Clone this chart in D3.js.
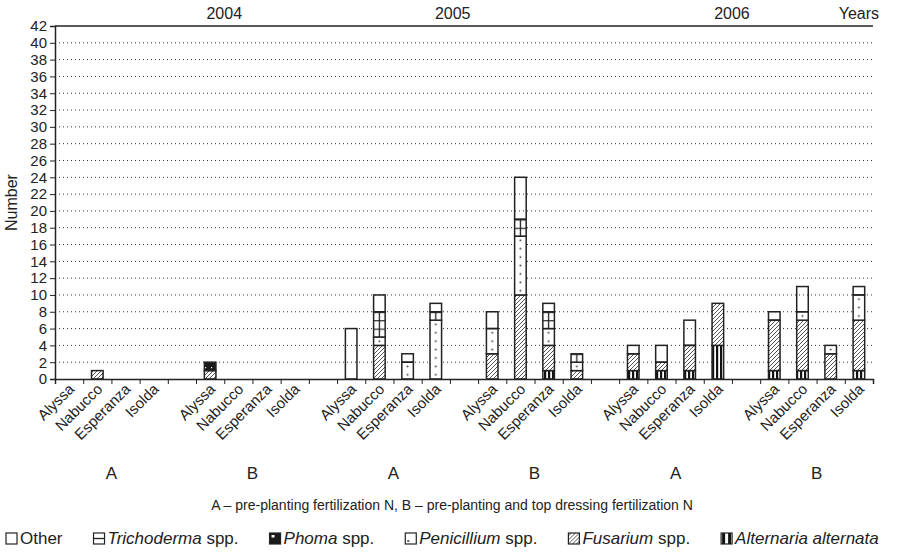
<!DOCTYPE html>
<html>
<head>
<meta charset="utf-8">
<script src="https://cdn.jsdelivr.net/npm/d3@7/dist/d3.min.js"></script>
<style>
  body { margin: 0; background: #fff; }
  svg text { font-family: "Liberation Sans", Arial, sans-serif; fill: #222; }
</style>
</head>
<body>
<div class="chart"></div>
<script>
// Data
const varieties = ["Alyssa", "Nabucco", "Esperanza", "Isolda"];
const treatments = ["A", "B", "A", "B", "A", "B"];
const years = ["2004", "2005", "2006"];
const yTicks = d3.range(0, 43, 2);

// one value per bar: 6 groups x 4 varieties
const alternaria  = [0,0,0,0, 0,0,0,0, 0,0,0,0, 0,0,1,0, 1,1,1,4, 1,1,0,1];
const fusarium    = [0,1,0,0, 1,0,0,0, 0,4,0,0, 3,10,3,1, 2,1,3,5, 6,6,3,6];
const penicillium = [0,0,0,0, 0,0,0,0, 0,1,2,7, 3,7,2,1, 0,0,0,0, 0,1,1,3];
const phoma       = [0,0,0,0, 1,0,0,0, 0,0,0,0, 0,0,0,0, 0,0,0,0, 0,0,0,0];
const trichoderma = [0,0,0,0, 0,0,0,0, 0,3,0,1, 0,2,2,1, 0,0,0,0, 0,0,0,0];
const other       = [0,0,0,0, 0,0,0,0, 6,2,1,1, 2,5,1,0, 1,2,3,0, 1,3,0,1];

// stacking order, bottom first
const series = [
  { key: "alt", values: alternaria },
  { key: "fus", values: fusarium },
  { key: "pen", values: penicillium },
  { key: "pho", values: phoma },
  { key: "tri", values: trichoderma },
  { key: "oth", values: other }
];

// legend order (left to right)
const legendItems = [
  { key: "oth", name: "Other", spp: false, italic: false },
  { key: "tri", name: "Trichoderma", spp: true, italic: true },
  { key: "pho", name: "Phoma", spp: true, italic: true },
  { key: "pen", name: "Penicillium", spp: true, italic: true },
  { key: "fus", name: "Fusarium", spp: true, italic: true },
  { key: "alt", name: "Alternaria alternata", spp: false, italic: true }
];

// Layout
const W = 905, H = 554;
const plotLeft = 55, plotRight = 873, plotTop = 26, plotBottom = 379;

const svg = d3.select(".chart").append("svg")
  .attr("width", W)
  .attr("height", H);

// slots: 4 varieties per group, one empty slot between groups
const slots = [];
treatments.forEach((t, g) => {
  varieties.forEach((v, i) => slots.push({ g: g, v: v, idx: g * 4 + i }));
  if (g < treatments.length - 1) slots.push({ g: g, gap: true });
});
slots.forEach((s, i) => s.slot = i);

const xPos = d3.scaleLinear().domain([0, slots.length]).range([plotLeft, plotRight]);
const x = d3.scaleBand()
  .domain(d3.range(slots.length))
  .range([plotLeft, plotRight])
  .paddingInner(0);

const y = d3.scaleLinear().domain([0, 42]).range([plotBottom, plotTop]);
const unit = y(0) - y(1);

// patterns for the fills
const defs = svg.append("defs");
function pattern(id, w, h, px, py) {
  const p = defs.append("pattern").attr("id", id).attr("patternUnits", "userSpaceOnUse")
    .attr("width", w).attr("height", h).attr("x", px || 0).attr("y", py || 0);
  p.append("rect").attr("width", w).attr("height", h).attr("fill", "#fff");
  return p;
}

let p = pattern("alt", 4, 4);
p.append("rect").attr("x", 0).attr("width", 2.2).attr("height", 4).attr("fill", "#111");

p = pattern("fus", 4, 4);
p.append("path").attr("d", "M-1,1 l2,-2 M0,4 l4,-4 M3,5 l2,-2")
  .attr("stroke", "#555").attr("stroke-width", 1);

p = pattern("pen", x.bandwidth(), unit, plotLeft, plotBottom);
p.append("circle").attr("cx", x.bandwidth() / 2).attr("cy", unit / 2).attr("r", 1).attr("fill", "#444");

p = pattern("pho", 6, 6);
p.append("rect").attr("width", 6).attr("height", 6).attr("fill", "#1a1a1a");
p.append("rect").attr("x", 1).attr("y", 1).attr("width", 1.2).attr("height", 1.2).attr("fill", "#fff");

// brick-like boxes, one row per unit, with a divider at the bar centre
p = pattern("tri", x.bandwidth(), unit, plotLeft, plotBottom);
p.append("path")
  .attr("d", `M0,0.6 h${x.bandwidth()} M${x.bandwidth() / 2},0 v${unit}`)
  .attr("stroke", "#222").attr("stroke-width", 1.3);

// legend swatches
p = pattern("leg-tri", 11, 11, 0, 0);
p.append("path").attr("d", "M0,5.5 h11").attr("stroke", "#222").attr("stroke-width", 1.3);
p = pattern("leg-pho", 11, 11, 0, 0);
p.append("rect").attr("width", 11).attr("height", 11).attr("fill", "#1a1a1a");
p.append("rect").attr("x", 2).attr("y", 2).attr("width", 3).attr("height", 2.5).attr("fill", "#fff");
p = pattern("leg-pen", 11, 11, 0, 0);
p.append("circle").attr("cx", 3).attr("cy", 8).attr("r", 1).attr("fill", "#222");
p = pattern("leg-alt", 11, 11, 0, 0);
p.append("rect").attr("x", 1).attr("width", 3).attr("height", 11).attr("fill", "#111");
p.append("rect").attr("x", 7).attr("width", 3).attr("height", 11).attr("fill", "#111");

// gridlines
svg.append("g").selectAll("line")
  .data(yTicks.filter(d => d > 0 && d < 42))
  .join("line")
  .attr("x1", plotLeft).attr("x2", plotRight)
  .attr("y1", d => y(d)).attr("y2", d => y(d))
  .attr("stroke", "#333")
  .attr("stroke-width", 1)
  .attr("stroke-dasharray", "1,3");

// top frame line
svg.append("line")
  .attr("x1", plotLeft).attr("x2", plotRight)
  .attr("y1", y(42)).attr("y2", y(42))
  .attr("stroke", "#222").attr("stroke-width", 1.5);

// y axis
const yAxis = svg.append("g")
  .attr("transform", `translate(${plotLeft},0)`)
  .call(d3.axisLeft(y).tickValues(yTicks).tickSize(5).tickPadding(3));
yAxis.select(".domain").attr("stroke", "#222").attr("stroke-width", 1.5);
yAxis.selectAll(".tick line").attr("stroke", "#222");
yAxis.selectAll("text").style("font-size", "15px").attr("fill", "#222");

svg.append("text")
  .attr("transform", `translate(17,${(plotTop + plotBottom) / 2}) rotate(-90)`)
  .attr("text-anchor", "middle")
  .style("font-size", "16px")
  .text("Number");

// stacked bars
const barSlots = slots.filter(s => !s.gap);
const bw = x.bandwidth() * 0.41;
series.forEach((s, si) => {
  svg.append("g").selectAll("rect")
    .data(barSlots.filter(b => s.values[b.idx] > 0))
    .join("rect")
    .attr("x", b => x(b.slot) + (x.bandwidth() - bw) / 2)
    .attr("width", bw)
    .attr("y", b => {
      let base = 0;
      for (let k = 0; k <= si; k++) base += series[k].values[b.idx];
      return y(base);
    })
    .attr("height", b => y(0) - y(s.values[b.idx]))
    .attr("fill", `url(#${s.key})`)
    .attr("stroke", "#222")
    .attr("stroke-width", 1.5);
});

// x axis with ticks between slots
const xAxis = svg.append("g")
  .attr("transform", `translate(0,${plotBottom})`)
  .call(d3.axisBottom(xPos).tickValues(d3.range(1, slots.length + 1)).tickSize(5).tickFormat(""));
xAxis.select(".domain").attr("stroke", "#222").attr("stroke-width", 1.5);
xAxis.selectAll(".tick line").attr("stroke", "#222");

// variety labels
svg.append("g").selectAll("text")
  .data(barSlots)
  .join("text")
  .attr("transform", b => `translate(${x(b.slot) + x.bandwidth() / 2 + 6},${plotBottom + 11}) rotate(-45)`)
  .attr("text-anchor", "end")
  .style("font-size", "15px")
  .text(b => b.v);

// treatment labels under each group
svg.append("g").selectAll("text")
  .data(treatments)
  .join("text")
  .attr("x", (t, g) => xPos(g * 5 + 2))
  .attr("y", 479)
  .attr("text-anchor", "middle")
  .style("font-size", "17px")
  .text(t => t);

svg.append("text")
  .attr("x", 452)
  .attr("y", 510)
  .attr("text-anchor", "middle")
  .style("font-size", "14px")
  .text("A \u2013 pre-planting fertilization N, B \u2013 pre-planting and top dressing fertilization N");

// year labels along the top
const yearSlot = [6, 14.1, 24];
svg.append("g").selectAll("text")
  .data(years)
  .join("text")
  .attr("x", (d, i) => xPos(yearSlot[i]))
  .attr("y", 19)
  .attr("text-anchor", "middle")
  .style("font-size", "16px")
  .text(d => d);

svg.append("text")
  .attr("x", plotRight + 6)
  .attr("y", 19)
  .attr("text-anchor", "end")
  .style("font-size", "16px")
  .text("Years");

// legend
const legend = svg.append("g").attr("transform", "translate(6,544)");
let lx = 0;
legendItems.forEach(item => {
  const g = legend.append("g").attr("transform", `translate(${lx},0)`);
  const fill = item.key === "oth" ? "#fff" : item.key === "fus" ? "url(#fus)" : `url(#leg-${item.key})`;
  g.append("rect")
    .attr("x", 0).attr("y", -11)
    .attr("width", 11).attr("height", 11)
    .attr("fill", fill)
    .attr("stroke", "#222").attr("stroke-width", 1.2);
  const t = g.append("text").attr("x", 14).attr("y", 0).style("font-size", "17px");
  t.append("tspan").style("font-style", item.italic ? "italic" : "normal").text(item.name);
  if (item.spp) t.append("tspan").text(" spp.");
  lx += 14 + t.node().getComputedTextLength() + 31;
});
</script>
</body>
</html>
